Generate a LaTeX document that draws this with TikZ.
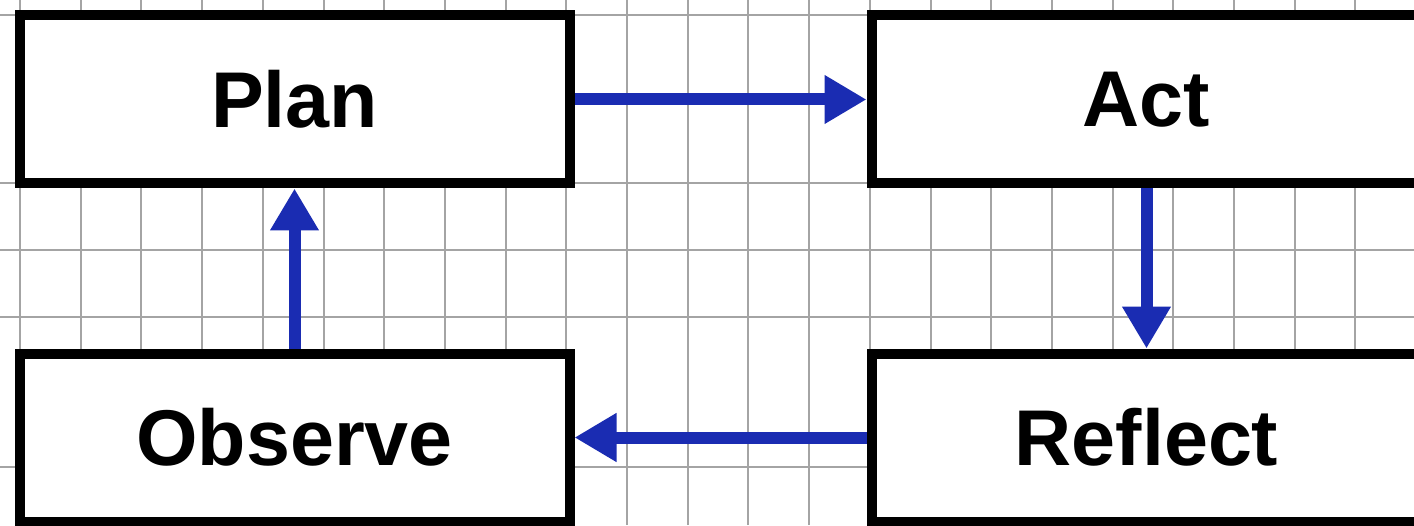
\documentclass[tikz,border=0pt]{standalone}
\usepackage{fontspec}
\setmainfont{Liberation Sans}
\usetikzlibrary{positioning,arrows.meta}
\definecolor{CycleBlue}{HTML}{1A2CB2}
\definecolor{CycleGrid}{HTML}{A4A4A4}

\begin{document}
\begin{tikzpicture}[>={Triangle[length=4.2mm,width=4.6mm]},node distance=1.6cm and 2.92cm]
  \tikzstyle{cyclestep}=[draw=black,fill=white,line width=1mm,
    minimum width=55mm,minimum height=16.8mm,inner sep=0pt,
    font=\bfseries\fontsize{22.5}{26}\selectfont]
  \tikzstyle{cyclearrow}=[->,line width=1.2mm,color=CycleBlue]
  \tikzstyle{gridline}=[CycleGrid,line width=0.2mm]
  \useasboundingbox (0,0) rectangle (14.14,5.25);
  \fill[white] (0,0) rectangle (14.14,5.25);
  \foreach \k in {0,...,22}
    \draw[gridline] (0.2+0.607*\k,0) -- ++(0,5.25);
  \foreach \y in {0.58,2.08,2.75,3.42,5.10}
    \draw[gridline] (0,\y) -- (14.14,\y);
  \node[cyclestep] (plan) at (2.945,4.255) {Plan};
  \node[cyclestep,right=of plan] (act) {Act};
  \node[cyclestep,below=of plan] (observe) {Observe};
  \node[cyclestep,below=of act] (reflect) {Reflect};
  \draw[cyclearrow] (plan) -- (act);
  \draw[cyclearrow] (act) -- (reflect);
  \draw[cyclearrow] (reflect) -- (observe);
  \draw[cyclearrow] (observe) -- (plan);
\end{tikzpicture}
\end{document}
